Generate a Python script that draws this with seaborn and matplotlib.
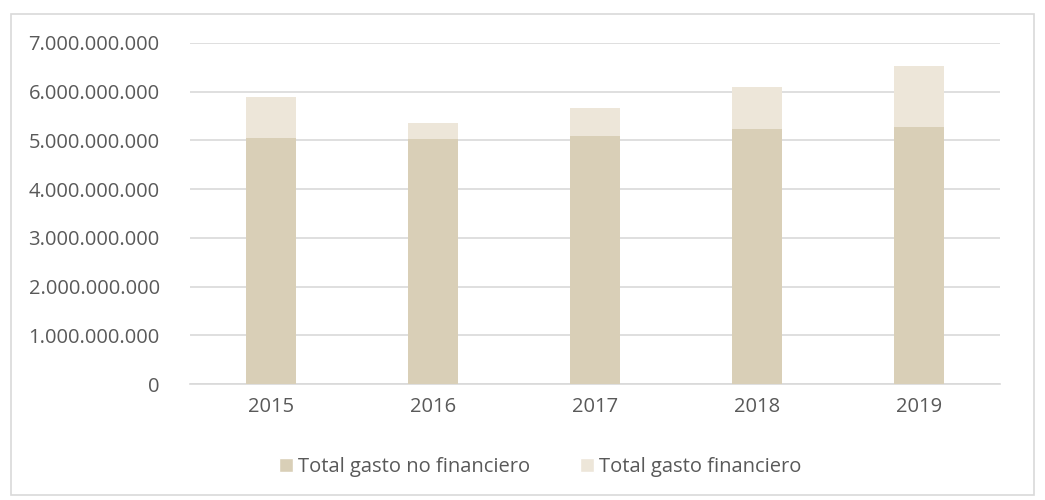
import numpy as np
import pandas as pd
import matplotlib
matplotlib.use('Agg')
import matplotlib.pyplot as plt
import seaborn as sns
from matplotlib.ticker import FuncFormatter
from matplotlib.patches import Rectangle, Patch

# data
years = ['2015', '2016', '2017', '2018', '2019']
gasto_no_financiero = [5.05e9, 5.03e9, 5.09e9, 5.24e9, 5.28e9]
gasto_financiero = [0.84e9, 0.33e9, 0.58e9, 0.86e9, 1.24e9]

df = pd.DataFrame({'year': years,
                   'no_fin': gasto_no_financiero,
                   'fin': gasto_financiero})
df['total'] = df['no_fin'] + df['fin']

dark = '#D9CFB7'
light = '#EDE6D9'

sns.set_style('white')
plt.rcParams['font.family'] = ['Open Sans', 'DejaVu Sans']

fig = plt.figure(figsize=(10.45, 5), dpi=100)
ax = fig.add_axes([0.182, 0.232, 0.775, 0.682])

# stacked: total in light, non-financial part drawn over it
sns.barplot(data=df, x='year', y='total', color=light, width=0.31,
            saturation=1, linewidth=0, ax=ax, zorder=2)
sns.barplot(data=df, x='year', y='no_fin', color=dark, width=0.31,
            saturation=1, linewidth=0, ax=ax, zorder=3)

ax.set_ylim(0, 7e9)
ax.set_yticks(np.arange(0, 7.5e9, 1e9))
ax.yaxis.set_major_formatter(FuncFormatter(lambda v, p: f'{int(v):,}'.replace(',', '.')))
ax.grid(axis='y', color='#D9D9D9', linewidth=1.2, zorder=0)
ax.set_axisbelow(True)
for s in ['top', 'right', 'left']:
    ax.spines[s].set_visible(False)
ax.spines['bottom'].set_color('#D9D9D9')
ax.spines['bottom'].set_linewidth(1.2)
ax.tick_params(axis='both', length=0, labelsize=14.5, colors='#595959')
ax.tick_params(axis='y', pad=22)
ax.tick_params(axis='x', pad=9)
ax.set_xlabel('')
ax.set_ylabel('')

handles = [Patch(facecolor=dark, label='Total gasto no financiero'),
           Patch(facecolor=light, label='Total gasto financiero')]
leg = fig.legend(handles=handles, loc='center', bbox_to_anchor=(0.517, 0.066),
                 ncol=2, frameon=False, fontsize=14.5, handlelength=0.7,
                 handleheight=0.7, handletextpad=0.25, columnspacing=2.45)
for t in leg.get_texts():
    t.set_color('#595959')

fig.patches.append(Rectangle((0.011, 0.01), 0.978, 0.962, transform=fig.transFigure,
                             fill=False, edgecolor='#D9D9D9', linewidth=1.2))

fig.savefig('out.png', dpi=100)
